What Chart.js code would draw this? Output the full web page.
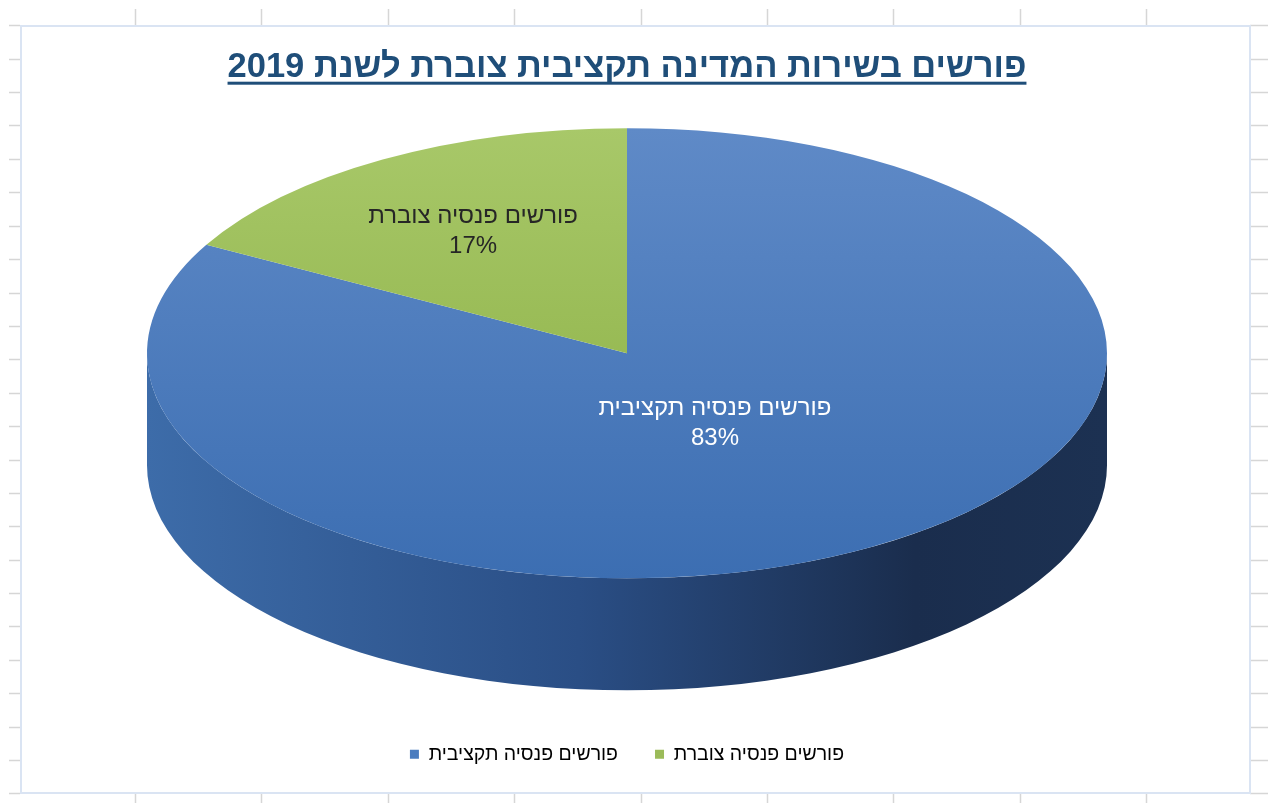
<!DOCTYPE html>
<html>
<head>
<meta charset="utf-8">
<script src="https://cdn.jsdelivr.net/npm/chart.js@4.4.1/dist/chart.umd.min.js"></script>
<style>
  html, body { margin: 0; padding: 0; background: #ffffff; }
  #wrap { width: 1268px; height: 803px; }
</style>
</head>
<body>
<div id="wrap"><canvas id="pie" width="1268" height="803"></canvas></div>
<script>
// ---- data ----
const chartTitle = 'פורשים בשירות המדינה תקציבית צוברת לשנת 2019';
const categories = ['פורשים פנסיה תקציבית', 'פורשים פנסיה צוברת'];
const shares = [83, 17];

// ---- styling ----
const FONT = "'Liberation Sans', Arial, sans-serif";
const flatColors = ['#4a7cbf', '#9bbb59'];
const faceLight = ['#5f8ac7', '#a8c869'];
const faceDark = ['#3c6eb2', '#88ad40'];
const sideStops = [
  [[0, '#3d6ca9'], [0.45, '#2a4e85'], [0.8, '#1a2d4d'], [1, '#1c3152']],
  [[0, '#7a9a3e'], [1, '#4f6a22']]
];
const labelColors = ['#ffffff', '#262626'];
const labelReach = [0.36, 0.63];  // fraction of the radius along each slice's mid-angle
const RADIUS = 480;               // horizontal radius of the disc
const TILT = 0.469;               // vertical squash of the top face
const DEPTH = 112;                // thickness of the disc

// spreadsheet cells behind the chart object
const sheetPlugin = {
  id: 'sheet',
  beforeDraw(chart) {
    const ctx = chart.ctx;
    ctx.save();
    ctx.fillStyle = '#ffffff';
    ctx.fillRect(0, 0, chart.width, chart.height);
    ctx.strokeStyle = '#d6d6d6';
    ctx.lineWidth = 1.5;
    const seg = (x1, y1, x2, y2) => { ctx.beginPath(); ctx.moveTo(x1, y1); ctx.lineTo(x2, y2); ctx.stroke(); };
    for (let i = 0; i < 9; i++) {
      const x = Math.round(135 + 126.4 * i) + 0.5;
      seg(x, 9, x, 25);
      seg(x, 794, x, 803);
    }
    for (let j = 0; j < 24; j++) {
      const y = Math.round(25.3 + 33.4 * j) + 0.5;
      seg(9, y, 20, y);
      seg(1250, y, 1268, y);
    }
    ctx.strokeStyle = '#dae4f3';
    ctx.lineWidth = 2;
    ctx.strokeRect(21, 26, 1229, 767);
    ctx.restore();
  }
};

// side wall of the disc + squashed top face
const extrudePlugin = {
  id: 'extrude',
  beforeDatasetsDraw(chart) {
    const meta = chart.getDatasetMeta(0);
    const ctx = chart.ctx;
    const first = meta.data[0];
    const cx = first.x, cy = first.y, r = first.outerRadius;
    const ry = r * TILT;
    const topY = cy - DEPTH / 2;
    const botY = cy + DEPTH / 2;
    ctx.save();
    meta.data.forEach((arc, i) => {
      const { startAngle, endAngle } = arc;
      for (const off of [-2 * Math.PI, 0, 2 * Math.PI]) {
        const a0 = Math.max(startAngle, off);
        const a1 = Math.min(endAngle, Math.PI + off);
        if (a1 <= a0) continue;
        const g = ctx.createLinearGradient(cx - r, 0, cx + r, 0);
        sideStops[i].forEach(([t, c]) => g.addColorStop(t, c));
        ctx.beginPath();
        ctx.ellipse(cx, topY, r, ry, 0, a0, a1, false);
        ctx.ellipse(cx, botY, r, ry, 0, a1, a0, true);
        ctx.closePath();
        ctx.fillStyle = g;
        ctx.fill();
      }
    });
    ctx.restore();
    ctx.save();
    ctx.translate(0, topY);
    ctx.scale(1, TILT);
    ctx.translate(0, -cy);
  },
  afterDatasetsDraw(chart) {
    chart.ctx.restore();
  }
};

// category name + percentage inside each slice
const sliceLabelPlugin = {
  id: 'sliceLabels',
  afterDatasetsDraw(chart) {
    const meta = chart.getDatasetMeta(0);
    const ctx = chart.ctx;
    ctx.save();
    ctx.font = '24px ' + FONT;
    ctx.textAlign = 'center';
    ctx.textBaseline = 'middle';
    meta.data.forEach((arc, i) => {
      const mid = (arc.startAngle + arc.endAngle) / 2;
      const topY = arc.y - DEPTH / 2;
      const x = arc.x + labelReach[i] * arc.outerRadius * Math.cos(mid);
      const y = topY + labelReach[i] * arc.outerRadius * TILT * Math.sin(mid);
      ctx.fillStyle = labelColors[i];
      ctx.direction = 'rtl';
      ctx.fillText(categories[i], x, y - 15);
      ctx.direction = 'ltr';
      ctx.fillText(shares[i] + '%', x, y + 15);
    });
    ctx.restore();
  }
};

// underline under the chart title
const titleUnderlinePlugin = {
  id: 'titleUnderline',
  afterDraw(chart) {
    const tb = chart.titleBlock;
    if (!tb) return;
    const o = tb.options;
    const ctx = chart.ctx;
    const lh = o.font.size * o.font.lineHeight;
    const yMid = tb.top + o.padding.top + lh / 2;
    ctx.save();
    ctx.font = 'bold ' + o.font.size + 'px ' + FONT;
    const w = ctx.measureText(chartTitle).width;
    const xMid = (tb.left + tb.right) / 2;
    ctx.fillStyle = o.color;
    ctx.fillRect(xMid - w / 2, yMid + 14, w, 3);
    ctx.restore();
  }
};

function faceGradient(c) {
  const i = c.dataIndex;
  const area = c.chart.chartArea;
  if (!area) return flatColors[i];
  const cy = (area.top + area.bottom) / 2;
  const g = c.chart.ctx.createLinearGradient(0, cy - RADIUS, 0, cy + RADIUS);
  g.addColorStop(0, faceLight[i]);
  g.addColorStop(1, faceDark[i]);
  return g;
}

new Chart(document.getElementById('pie'), {
  type: 'pie',
  data: {
    labels: categories,
    datasets: [{
      data: shares,
      backgroundColor: faceGradient,
      borderWidth: 0,
      radius: RADIUS,
      clip: 3000
    }]
  },
  options: {
    responsive: false,
    animation: false,
    layout: { padding: { top: 0, left: 0, right: 14, bottom: 29 } },
    plugins: {
      title: {
        display: true,
        text: chartTitle,
        color: '#1f4e79',
        font: { family: FONT, size: 34.5, weight: 'bold', lineHeight: 1.2 },
        padding: { top: 47, bottom: 22.6 }
      },
      legend: {
        position: 'bottom',
        labels: {
          boxWidth: 9,
          boxHeight: 9,
          padding: 37,
          color: '#595959',
          font: { family: FONT, size: 19.5 },
          generateLabels() {
            return categories.map((text, i) => ({
              text,
              fillStyle: flatColors[i],
              strokeStyle: flatColors[i],
              lineWidth: 0,
              hidden: false,
              index: i
            }));
          }
        }
      },
      tooltip: { enabled: false }
    }
  },
  plugins: [sheetPlugin, extrudePlugin, sliceLabelPlugin, titleUnderlinePlugin]
});
</script>
</body>
</html>
